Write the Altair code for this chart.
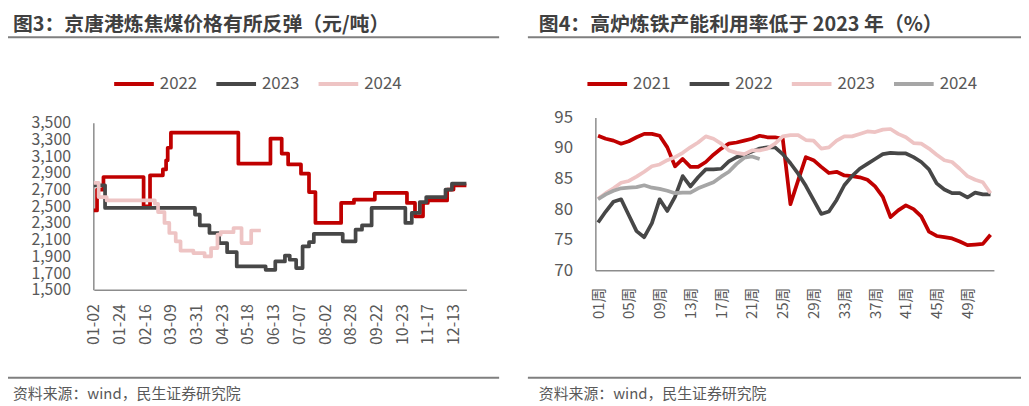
import json
import altair as alt
import pandas as pd

FONT = "Noto Sans CJK SC"
TXT = "#595959"
AXC = "#8c8c8c"
W, H = 1021, 398

# ---------------- left chart: coking coal price (step series, change points) ----------
left_series = ["2022", "2023", "2024"]
left_colors = ["#C00000", "#474747", "#EEC4C4"]

c2022_idx = [0, 2, 6, 31, 35, 43, 45, 46, 48, 90, 110, 117, 121, 129, 134, 138, 154, 162,
             175, 195, 200, 205, 208, 220, 224, 232]
c2022_val = [2450, 2700, 2850, 2500, 2870, 2940, 3050, 3200, 3380, 3010, 3310, 3130, 3000,
             2890, 2670, 2300, 2540, 2580, 2660, 2540, 2380, 2540, 2570, 2700, 2750, 2750]

c2023_idx = [0, 7, 63, 66, 72, 78, 83, 89, 107, 113, 119, 122, 126, 130, 134, 137, 155, 163,
             167, 173, 194, 198, 203, 207, 219, 223, 232]
c2023_val = [2750, 2480, 2400, 2270, 2180, 2060, 1950, 1780, 1740, 1840, 1910, 1860, 1760,
             2020, 2070, 2170, 2080, 2220, 2270, 2480, 2300, 2420, 2550, 2610, 2700, 2770, 2770]

c2024_idx = [0, 3, 8, 38, 40, 44, 47, 51, 54, 62, 69, 73, 77, 79, 87, 92, 98, 104]
c2024_val = [2780, 2610, 2570, 2530, 2430, 2300, 2180, 2080, 1970, 1940, 1900, 2000, 2160,
             2190, 2240, 2060, 2210, 2210]

date_labels = ["01-02", "01-24", "02-16", "03-09", "03-31", "04-23", "05-18", "06-13",
               "07-07", "08-02", "08-28", "09-22", "10-23", "11-17", "12-13"]
date_step = 16

# ---------------- right chart: blast furnace utilisation (weekly) ----------------
right_series = ["2021", "2022", "2023", "2024"]
right_colors = ["#C00000", "#474747", "#EEC4C4", "#A6A6A6"]

u2021 = [92.0, 91.5, 91.2, 90.7, 91.1, 91.75, 92.3, 92.3, 92.0, 90.1,
         87.0, 88.2, 86.9, 86.9, 87.7, 88.9, 89.9, 90.7, 90.9, 91.2,
         91.5, 92.0, 91.75, 91.75, 91.5, 80.8, 84.7, 88.5, 88.0, 86.9,
         85.9, 86.1, 85.5, 85.4, 85.2, 84.8, 83.7, 82.0, 78.7, 79.8,
         80.6, 80.0, 78.8, 76.3, 75.6, 75.4, 75.2, 74.7, 74.1, 74.2,
         74.3, 75.8]
u2022 = [77.8, 79.6, 81.2, 81.6, 79.0, 76.4, 75.4, 77.7, 81.6, 79.7,
         82.0, 85.4, 83.7, 85.2, 86.5, 86.5, 86.6, 87.8, 88.5, 88.9,
         89.4, 89.9, 90.1, 90.1, 89.0, 87.5, 85.8, 83.8, 81.5, 79.2,
         79.6, 81.5, 83.9, 85.4, 86.6, 87.4, 88.2, 89.0, 89.2, 89.1,
         89.1, 88.5, 87.7, 86.5, 84.2, 83.2, 82.6, 82.6, 81.9, 82.7,
         82.4, 82.4]
u2023 = [81.7, 82.6, 83.4, 84.3, 84.6, 85.3, 86.1, 87.0, 87.3, 88.0,
         88.5, 89.2, 90.1, 90.9, 91.9, 91.5, 90.7, 89.6, 89.2, 89.0,
         89.6, 89.6, 89.9, 90.7, 91.9, 92.1, 92.1, 91.3, 91.2, 89.9,
         90.1, 91.2, 91.9, 91.9, 92.3, 92.7, 92.6, 93.0, 93.1, 92.3,
         91.75, 90.8, 90.7, 89.9, 88.9, 88.0, 87.7, 86.6, 85.4, 84.8,
         84.4, 82.6]
u2024 = [81.6, 82.4, 83.0, 83.4, 83.5, 83.6, 83.9, 83.5, 83.3, 83.0,
         82.6, 82.7, 82.7, 83.4, 83.9, 84.4, 85.3, 86.1, 87.4, 88.4,
         88.6, 88.2]

week_ticks = [1, 5, 9, 13, 17, 21, 25, 29, 33, 37, 41, 45, 49]
week_labels = ["01周", "05周", "09周", "13周", "17周", "21周", "25周", "29周", "33周",
               "37周", "41周", "45周", "49周"]

title_left = "图3：京唐港炼焦煤价格有所反弹（元/吨）"
title_right = "图4：高炉炼铁产能利用率低于 2023 年（%）"
source_text = "资料来源：wind，民生证券研究院"

# ---------------- build tables ----------------
rows = []
for s, ii, vv in zip(left_series, [c2022_idx, c2023_idx, c2024_idx],
                     [c2022_val, c2023_val, c2024_val]):
    for i, v in zip(ii, vv):
        rows.append({"i": i, "v": v, "s": s})
df_left = pd.DataFrame(rows)

rows = []
for s, vals in zip(right_series, [u2021, u2022, u2023, u2024]):
    for k, v in enumerate(vals):
        rows.append({"w": k + 1, "u": v, "r": s})
df_right = pd.DataFrame(rows)

left_label_expr = json.dumps(date_labels) + f"[round(datum.value / {date_step})]"
right_label_expr = json.dumps(week_labels, ensure_ascii=False) + "[round((datum.value - 1) / 4)]"

axis_common = dict(grid=False, ticks=False, tickSize=0, title=None, domainColor=AXC,
                   domainWidth=1.5, labelFont=FONT, labelColor=TXT, labelOverlap=False,
                   labelFlush=False)

legend_common = dict(orient="none", direction="horizontal", title=None, symbolType="stroke",
                     symbolSize=1600, symbolStrokeWidth=4, labelFont=FONT, labelFontSize=17,
                     labelColor=TXT, labelOffset=4, columnPadding=11, padding=0)

# left plot: y 1500 -> page 290.5, 3500 -> page 122 ; x 0 -> page 94.5, 232 -> page 470
L_Y0, L_Y1 = 282.5, 114
L_X0, L_X1 = 86.5, 462
left = alt.Chart(df_left).mark_line(interpolate="step-after", strokeWidth=3.75,
                                    strokeJoin="round").encode(
    x=alt.X("i:Q", scale=alt.Scale(domain=[0, 232], range=[L_X0, L_X1], nice=False, zero=False),
            axis=alt.Axis(orient="bottom", offset=L_Y0 - H,
                          values=[k * date_step for k in range(len(date_labels))],
                          labelExpr=left_label_expr, labelAngle=-90, labelFontSize=16,
                          labelPadding=14, **axis_common)),
    y=alt.Y("v:Q", scale=alt.Scale(domain=[1500, 3500], range=[L_Y0, L_Y1], nice=False, zero=False),
            axis=alt.Axis(orient="left", offset=-(L_X0 - 0.5), values=list(range(1500, 3501, 200)),
                          format=",d", labelFontSize=16, labelPadding=23, **axis_common)),
    color=alt.Color("s:N", scale=alt.Scale(domain=left_series, range=left_colors),
                    legend=alt.Legend(legendX=105, legendY=53, **legend_common)),
)

# right plot: y 70 -> page 270.7, 95 -> page 116.7 ; axis x page 600 -> 1001.7
R_Y0, R_Y1 = 262.7, 108.7
R_X0, R_X1 = 592, 993.7
right = alt.Chart(df_right).mark_line(strokeWidth=3.75, strokeJoin="round").encode(
    x=alt.X("w:Q", scale=alt.Scale(domain=[0.65, 52.44], range=[R_X0, R_X1], nice=False, zero=False),
            axis=alt.Axis(orient="bottom", offset=R_Y0 - H, values=week_ticks,
                          labelExpr=right_label_expr, labelAngle=-90, labelFontSize=15,
                          labelPadding=17, **axis_common)),
    y=alt.Y("u:Q", scale=alt.Scale(domain=[70, 95], range=[R_Y0, R_Y1], nice=False, zero=False),
            axis=alt.Axis(orient="left", offset=-R_X0, values=[70, 75, 80, 85, 90, 95],
                          labelFontSize=17, labelPadding=23, **axis_common)),
    color=alt.Color("r:N", scale=alt.Scale(domain=right_series, range=right_colors),
                    legend=alt.Legend(legendX=582, legendY=53, **legend_common)),
)


def text_layer(txt, x, y, size, bold=False, color="#404040"):
    return alt.Chart(pd.DataFrame({"t": [txt]})).mark_text(
        align="left", baseline="middle", font=FONT, fontSize=size,
        fontWeight="bold" if bold else "normal", color=color).encode(
        text="t:N", x=alt.value(x), y=alt.value(y))


def rule_layer(x1, x2, y, color="#7f7f7f", width=2):
    return alt.Chart(pd.DataFrame({"k": [0]})).mark_rule(color=color, strokeWidth=width).encode(
        x=alt.value(x1), x2=alt.value(x2), y=alt.value(y))


deco = [
    text_layer(title_left, 5, 16, 20, bold=True),
    text_layer(title_right, 535, 16, 20, bold=True),
    rule_layer(0, 495, 28),
    rule_layer(524, W, 28),
    rule_layer(0, 495, 371),
    rule_layer(524, W, 371),
    text_layer(source_text, 5, 388, 15, color=TXT),
    text_layer(source_text, 535, 388, 15, color=TXT),
]

chart = alt.layer(left, right, *deco).resolve_scale(
    x="independent", y="independent", color="independent"
).properties(
    width=W, height=H, padding=0, autosize=alt.AutoSizeParams(type="none")
).configure_view(stroke=None)

chart.save("out.html", embed_options={"renderer": "svg", "actions": False})
